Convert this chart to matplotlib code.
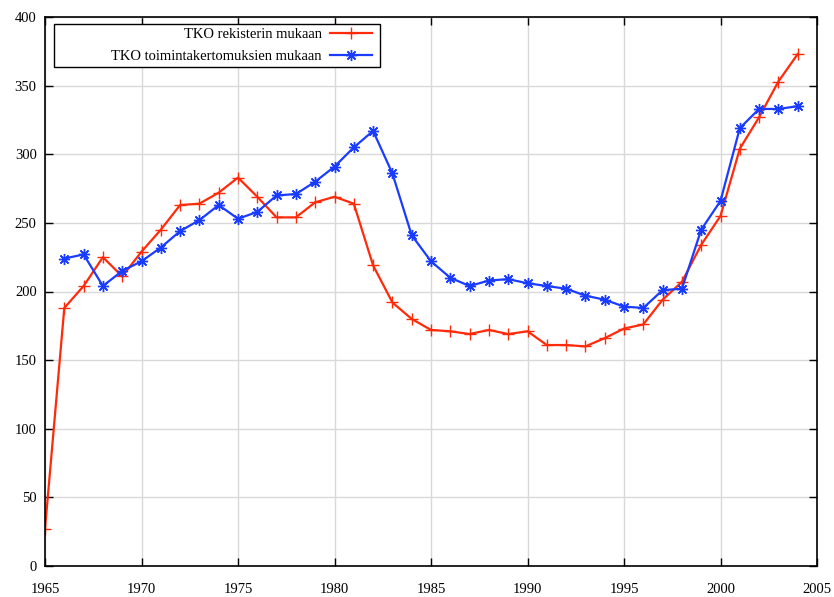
import matplotlib
matplotlib.use("Agg")
import matplotlib.pyplot as plt
from matplotlib.patches import Rectangle

years = list(range(1965, 2005))
years_blue = list(range(1966, 2005))
rekisteri = [27, 188, 204, 225, 211, 229, 245, 263, 264, 272,
             283, 269, 254, 254, 265, 269, 264, 219, 192, 180,
             172, 171, 169, 172, 169, 171, 161, 161, 160, 166,
             173, 176, 194, 207, 234, 255, 304, 327, 353, 373]
toiminta = [224, 227, 204, 215, 222, 232, 244, 252, 263,
            253, 258, 270, 271, 280, 291, 305, 317, 286, 241,
            222, 210, 204, 208, 209, 206, 204, 202, 197, 194,
            189, 188, 201, 202, 245, 266, 319, 333, 333, 335]
label_red = "TKO rekisterin mukaan"
label_blue = "TKO toimintakertomuksien mukaan"
xticks = [1965, 1970, 1975, 1980, 1985, 1990, 1995, 2000, 2005]
yticks = [0, 50, 100, 150, 200, 250, 300, 350, 400]

plt.rcParams['font.family'] = ['Liberation Serif', 'DejaVu Serif']
W, H = 834, 597
fig = plt.figure(figsize=(W/100, H/100), dpi=100)
L, R, T, B = 45, 817, 17, 566
ax = fig.add_axes([L/W, 1-B/H, (R-L)/W, (B-T)/H])

ax.plot(years, rekisteri, color='#ff2a0a', lw=1.6, marker='+', ms=8, mew=1.0, label=label_red)
ax.plot(years_blue, toiminta, color='#1a3cff', lw=1.6, marker=(8, 2, 0), ms=8, mew=1.0, label=label_blue)

ax.set_xlim(1965, 2005)
ax.set_ylim(0, 400)
ax.set_xticks(xticks)
ax.set_yticks(yticks)
ax.grid(True, color='#d9d9d9', lw=1.0)
ax.set_axisbelow(True)
ax.tick_params(direction='in', top=True, right=True, length=6, width=1.0, labelsize=10.5)
ax.tick_params(axis='x', pad=12)
ax.tick_params(axis='y', pad=6)
for s in ax.spines.values():
    s.set_linewidth(1.2)

def ax_x(px):
    return (px - L) / (R - L)

def ax_y(py):
    return (B - py) / (B - T)

frame = Rectangle((ax_x(54), ax_y(67)), ax_x(380) - ax_x(54), ax_y(24) - ax_y(67),
                  transform=ax.transAxes, facecolor='white', edgecolor='black',
                  lw=1.0, zorder=4)
ax.add_patch(frame)

leg = ax.legend(loc='upper right', bbox_to_anchor=(ax_x(372), ax_y(27.5)),
                borderaxespad=0, borderpad=0, markerfirst=False, frameon=False,
                fontsize=10.5, handlelength=2.9, handletextpad=0.55,
                labelspacing=0.65)
leg.set_zorder(5)
for t in leg.get_texts():
    t.set_ha('right')
leg._legend_box.align = 'right'
fig.savefig('out.png', dpi=100)
